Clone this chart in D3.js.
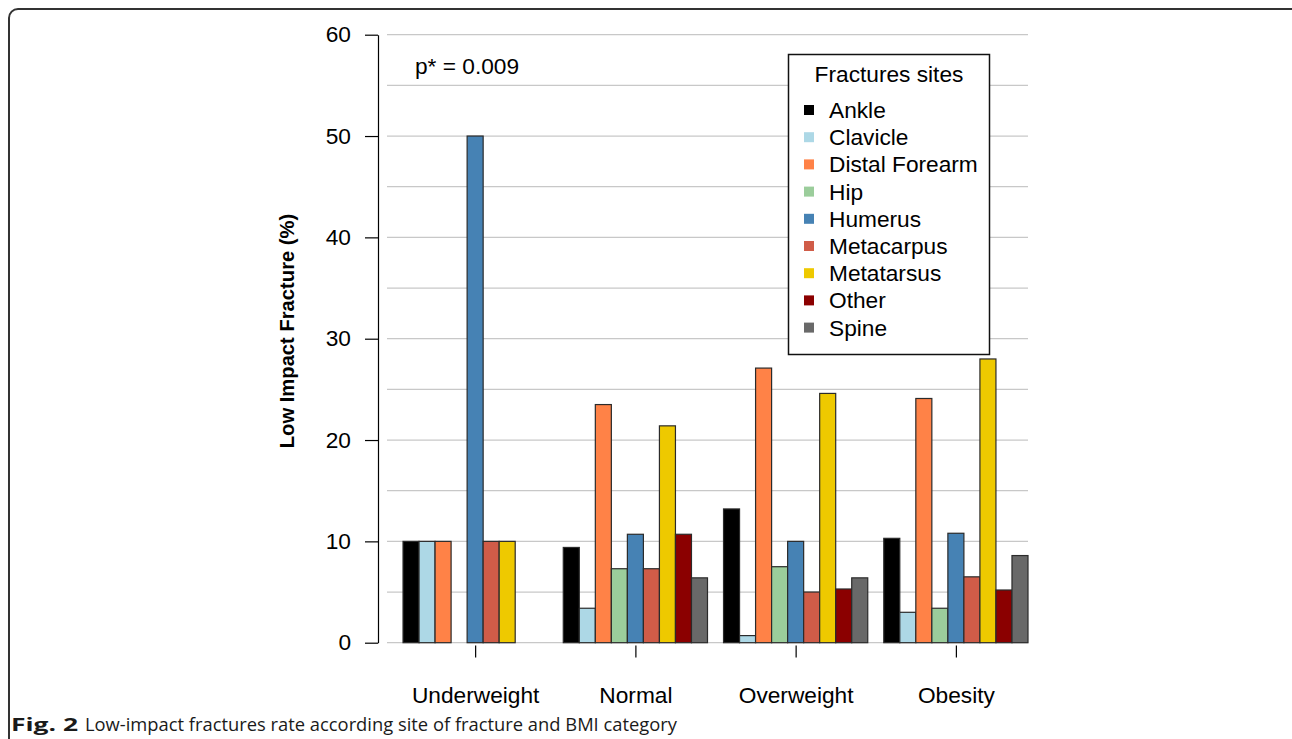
<!DOCTYPE html>
<html>
<head>
<meta charset="utf-8">
<script src="https://cdn.jsdelivr.net/npm/d3@7"></script>
<style>
  html, body { margin: 0; padding: 0; background: #fff; }
  svg { display: block; }
  svg text { fill: #000; }
</style>
</head>
<body>
<svg id="chart" width="1292" height="739"></svg>
<script>
// BMI categories along the x axis
const categories = ["Underweight", "Normal", "Overweight", "Obesity"];

// Fracture sites (one bar per site in each category)
const sites = ["Ankle", "Clavicle", "Distal Forearm", "Hip", "Humerus",
               "Metacarpus", "Metatarsus", "Other", "Spine"];
const siteColors = ["#000000", "#ADD8E6", "#FF8247", "#9BCD9B", "#4682B4",
                    "#D05C48", "#EEC900", "#8B0000", "#696969"];

// Low impact fracture rate (%) per site, one array per BMI category
const underweight = [10, 10, 10, 0, 50, 10, 10, 0, 0];
const normal      = [9.4, 3.4, 23.5, 7.3, 10.7, 7.3, 21.4, 10.7, 6.4];
const overweight  = [13.2, 0.7, 27.1, 7.5, 10.0, 5.0, 24.6, 5.3, 6.4];
const obesity     = [10.3, 3.0, 24.1, 3.4, 10.8, 6.5, 28.0, 5.2, 8.6];
const seriesByCategory = [underweight, normal, overweight, obesity];

const yTicks = [0, 10, 20, 30, 40, 50, 60];
const gridValues = d3.range(0, 61, 5);

const FONT = "'Liberation Sans', Arial, sans-serif";
const FS = 22.7;

const svg = d3.select("#chart");

// Rounded figure frame
svg.append("rect")
  .attr("x", 9).attr("y", 9)
  .attr("width", 1300).attr("height", 760)
  .attr("rx", 9).attr("ry", 9)
  .attr("fill", "none")
  .attr("stroke", "#333")
  .attr("stroke-width", 2);

// Bar positions in "bar units": each group is 9 bars plus one gap bar
const nSites = sites.length;
const groupSpan = nSites + 1;
const x = d3.scaleLinear().domain([0, categories.length * groupSpan]).range([387, 1028]);
const y = d3.scaleLinear().domain([0, 60]).range([642.7, 34.7]);

// Horizontal gridlines
svg.append("g")
  .selectAll("line")
  .data(gridValues)
  .join("line")
  .attr("x1", x(0)).attr("x2", x(categories.length * groupSpan))
  .attr("y1", d => y(d)).attr("y2", d => y(d))
  .attr("stroke", "#c8c8c8")
  .attr("stroke-width", 1.3);

// Bars
const bars = [];
seriesByCategory.forEach((vals, g) => {
  vals.forEach((v, i) => {
    bars.push({ g, i, v, u: 1 + g * groupSpan + i });
  });
});
svg.append("g")
  .selectAll("rect")
  .data(bars.filter(d => d.v > 0))
  .join("rect")
  .attr("x", d => x(d.u))
  .attr("width", d => x(d.u + 1) - x(d.u))
  .attr("y", d => y(d.v))
  .attr("height", d => y(0) - y(d.v))
  .attr("fill", d => siteColors[d.i])
  .attr("stroke", "#2b2b2b")
  .attr("stroke-width", 1.2);

// Y axis
const yAxis = d3.axisLeft(y)
  .tickValues(yTicks)
  .tickSize(13)
  .tickSizeOuter(0)
  .tickPadding(14);
const yg = svg.append("g")
  .attr("transform", "translate(378,0)")
  .call(yAxis);
yg.select(".domain").attr("stroke", "#000").attr("stroke-width", 1.2);
yg.selectAll(".tick line").attr("stroke", "#000").attr("stroke-width", 1.2);
yg.selectAll(".tick text")
  .style("font-size", FS + "px")
  .style("font-family", FONT)
  .attr("fill", "#000");

// X axis: ticks and labels at group centres
const xCat = d3.scalePoint()
  .domain(categories)
  .range([x(1 + nSites / 2), x(1 + (categories.length - 1) * groupSpan + nSites / 2)]);
const xAxis = d3.axisBottom(xCat)
  .tickSize(12)
  .tickSizeOuter(0)
  .tickPadding(29);
const xg = svg.append("g")
  .attr("transform", "translate(0,645.5)")
  .call(xAxis);
xg.select(".domain").remove();
xg.selectAll(".tick line").attr("stroke", "#000").attr("stroke-width", 1.2);
xg.selectAll(".tick text")
  .style("font-size", FS + "px")
  .style("font-family", FONT)
  .attr("fill", "#000");

// Y axis title
svg.append("text")
  .attr("transform", "translate(294,331) rotate(-90)")
  .attr("text-anchor", "middle")
  .style("font-family", FONT)
  .style("font-size", "20.2px")
  .style("font-weight", "bold")
  .text("Low Impact Fracture (%)");

// Significance annotation
svg.append("text")
  .attr("x", 415).attr("y", 74)
  .style("font-family", FONT)
  .style("font-size", FS + "px")
  .text("p* = 0.009");

// Legend
const legend = svg.append("g");
legend.append("rect")
  .attr("x", 788.5).attr("y", 54.5)
  .attr("width", 201).attr("height", 300)
  .attr("fill", "#fff")
  .attr("stroke", "#111")
  .attr("stroke-width", 1.5);
legend.append("text")
  .attr("x", 889).attr("y", 82)
  .attr("text-anchor", "middle")
  .style("font-family", FONT)
  .style("font-size", FS + "px")
  .text("Fractures sites");
const item = legend.selectAll("g.item")
  .data(sites)
  .join("g")
  .attr("class", "item")
  .attr("transform", (d, i) => `translate(0,${110 + i * 27.2})`);
item.append("rect")
  .attr("x", 804).attr("y", -5)
  .attr("width", 10).attr("height", 10)
  .attr("fill", (d, i) => siteColors[i]);
item.append("text")
  .attr("x", 829).attr("y", 8)
  .style("font-family", FONT)
  .style("font-size", FS + "px")
  .text(d => d);

// Figure caption
const cap = svg.append("text")
  .attr("y", 731)
  .style("font-family", "'Open Sans', 'Noto Sans', sans-serif")
  .style("font-size", "18.5px")
  .style("fill", "#1a1a1a");
cap.append("tspan")
  .attr("x", 11)
  .style("font-weight", "bold")
  .attr("textLength", 67)
  .attr("lengthAdjust", "spacingAndGlyphs")
  .text("Fig. 2");
cap.append("tspan")
  .attr("x", 85)
  .attr("textLength", 592)
  .attr("lengthAdjust", "spacingAndGlyphs")
  .text("Low-impact fractures rate according site of fracture and BMI category");
</script>
</body>
</html>
